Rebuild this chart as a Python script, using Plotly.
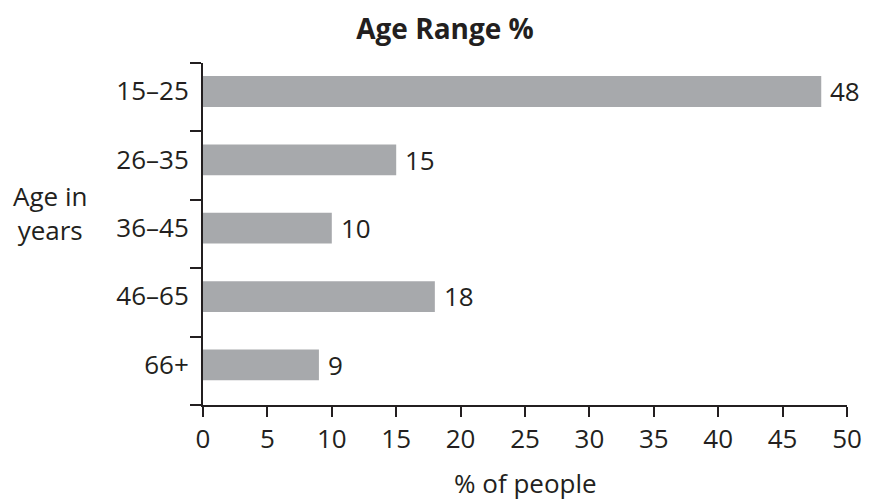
import plotly.graph_objects as go

# Age groups listed bottom-to-top so the youngest group sits at the top
age_groups = ["66+", "46–65", "36–45", "26–35", "15–25"]
percent_people = [9, 18, 10, 15, 48]
x_ticks = [0, 5, 10, 15, 20, 25, 30, 35, 40, 45, 50]

INK = "#231f20"
BAR = "#a7a9ac"
FONT = "Open Sans, Liberation Sans, sans-serif"
SIZE = 26

fig = go.Figure(
    go.Bar(
        x=percent_people,
        y=age_groups,
        orientation="h",
        marker=dict(color=BAR, line=dict(width=0)),
        width=0.45,
        offset=-0.14,
        hoverinfo="x+y",
        cliponaxis=False,
    )
)

# Value labels just past the end of each bar
for v, g in zip(percent_people, age_groups):
    fig.add_annotation(
        x=v,
        y=g,
        xref="x",
        yref="y",
        text=str(v),
        showarrow=False,
        xanchor="left",
        yanchor="middle",
        xshift=7,
        yshift=6,
        font=dict(family=FONT, size=SIZE, color=INK),
    )

fig.update_layout(
    width=871,
    height=500,
    margin=dict(l=203, r=24, t=63, b=95, autoexpand=False),
    paper_bgcolor="white",
    plot_bgcolor="white",
    showlegend=False,
    font=dict(family=FONT, size=SIZE, color=INK),
    title=dict(
        text="<b>Age Range %</b>",
        x=445 / 871,
        xanchor="center",
        y=1 - 29 / 500,
        yanchor="middle",
        font=dict(family=FONT, size=28, color=INK),
    ),
)

fig.update_xaxes(
    range=[0, 50],
    tickvals=x_ticks,
    ticktext=[str(t) for t in x_ticks],
    showgrid=False,
    zeroline=False,
    showline=True,
    linecolor=INK,
    linewidth=2,
    ticks="outside",
    ticklen=10,
    tickwidth=2,
    tickcolor=INK,
    automargin=False,
    tickfont=dict(family=FONT, size=SIZE, color=INK),
)

fig.update_yaxes(
    type="category",
    categoryorder="array",
    categoryarray=age_groups,
    # a hair past the outer boundaries so the end ticks are kept
    range=[-0.502, 4.502],
    showgrid=False,
    zeroline=False,
    showline=True,
    linecolor=INK,
    linewidth=2,
    ticks="outside",
    tickson="boundaries",
    ticklen=11,
    tickwidth=2,
    tickcolor=INK,
    ticklabelshift=-6,
    ticklabelstandoff=7,
    automargin=False,
    tickfont=dict(family=FONT, size=SIZE, color=INK),
)

# Short stub of the baseline that runs left past the vertical axis
fig.add_shape(
    type="line",
    xref="x",
    yref="paper",
    xsizemode="pixel",
    xanchor=0,
    x0=-11,
    x1=0,
    y0=0,
    y1=0,
    line=dict(color=INK, width=2),
)

# Value-axis title under the tick labels
fig.add_annotation(
    text="% of people",
    xref="paper",
    yref="paper",
    x=0.5,
    y=-(483 - 405) / 342,
    xanchor="center",
    yanchor="middle",
    showarrow=False,
    font=dict(family=FONT, size=SIZE, color=INK),
)

# Horizontal two-line label for the category axis
fig.add_annotation(
    text="Age in<br>years",
    xref="paper",
    yref="paper",
    x=(50 - 203) / 645,
    y=(405 - 213) / 342,
    xanchor="center",
    yanchor="middle",
    showarrow=False,
    align="center",
    font=dict(family=FONT, size=SIZE, color=INK),
)

fig.write_html("out.html")
